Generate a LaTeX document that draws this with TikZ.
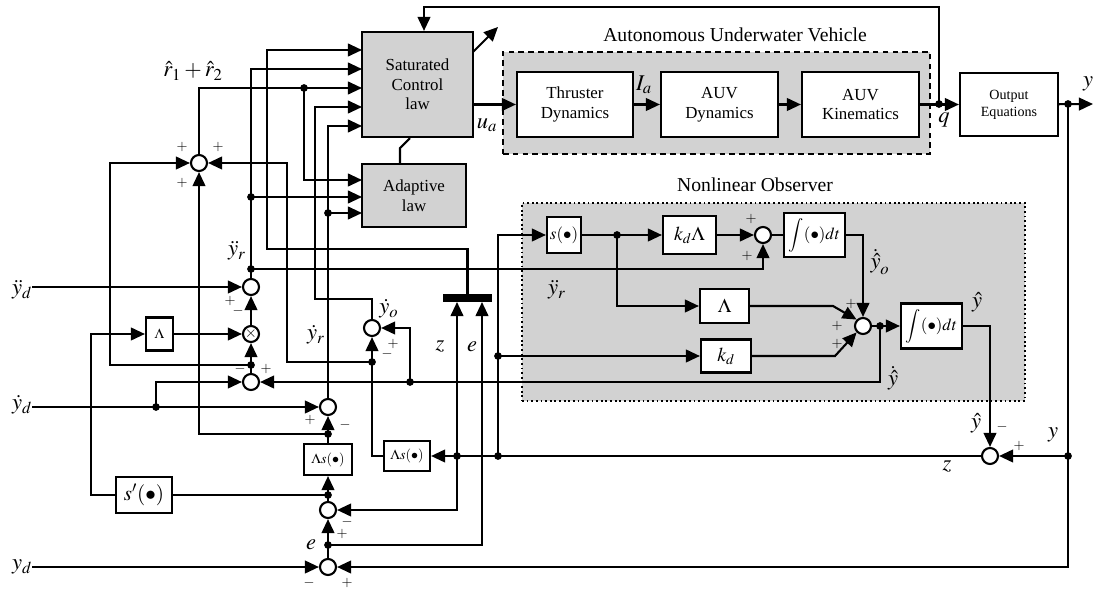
\documentclass[tikz,border=0pt]{standalone}
\usepackage{mathptmx}
\usepackage[no-math]{fontspec}
\setmainfont{Liberation Serif}
\usepackage{tikz}
\usetikzlibrary{arrows.meta, positioning, backgrounds}
\tikzset{
  blk/.style={rectangle, draw=black, line width=1.5pt, fill=white, align=center,
              inner sep=1pt, font=\fontsize{12}{14}\selectfont},
  gblk/.style={blk, fill=gray!35},
  sumc/.style={circle, draw=black, line width=1.5pt, fill=white,
               minimum size=0.4cm, inner sep=0pt},
  jdot/.style={circle, fill=black, minimum size=5.5pt, inner sep=0pt},
  arrow/.style={-{Triangle[length=10pt,width=9pt]}, line width=1.5pt},
  wire/.style={line width=1.5pt},
  sgn/.style={font=\fontsize{10}{10}\selectfont, inner sep=0pt},
  sig/.style={font=\fontsize{16}{16}\selectfont, inner sep=0pt},
}

\begin{document}
\begin{tikzpicture}[x=0.025cm, y=-0.025cm]
    \useasboundingbox (0,0) rectangle (1097,590);
    % groups
    \node[draw, dash pattern=on 4pt off 3pt, line width=1.5pt, fill=gray!35,
          minimum width=10.675cm, minimum height=2.55cm] (auv) at (716.5,103) {};
    \node[draw, dotted, line width=1.3pt, fill=gray!35,
          minimum width=12.575cm, minimum height=4.95cm] (obs) at (773.5,302) {};
    \node[font=\fontsize{14}{16}\selectfont] (auvt) at (735,35) {Autonomous Underwater Vehicle};
    \node[font=\fontsize{14}{16}\selectfont] (obst) at (755,185) {Nonlinear Observer};

    % blocks
    \node[gblk, minimum width=2.775cm, minimum height=2.625cm] (sat) at (417.5,84.5) {Saturated\\Control\\law};
    \node[gblk, minimum width=2.6cm, minimum height=1.575cm] (adapt) at (414,195.5) {Adaptive\\law};
    \node[blk, minimum width=2.9cm, minimum height=1.625cm] (thr) at (575,104.5) {Thruster\\Dynamics};
    \node[blk, minimum width=2.925cm, minimum height=1.625cm] (dyn) at (719.5,104.5) {AUV\\Dynamics};
    \node[blk, minimum width=2.925cm, minimum height=1.625cm] (kin) at (860.5,104.5) {AUV\\Kinematics};
    \node[blk, minimum width=2.45cm, minimum height=1.575cm,
          font=\fontsize{10}{12}\selectfont] (outeq) at (1009,104.5) {Output\\Equations};

    \node[blk, minimum width=0.85cm, minimum height=0.9cm] (sfun) at (564,235) {$s(\bullet)$};
    \node[blk, minimum width=1.325cm, minimum height=0.95cm, font=\fontsize{14}{14}\selectfont] (kdl) at (689.5,235) {$k_d\Lambda$};
    \node[blk, minimum width=1.525cm, minimum height=1.1cm] (int1) at (814.5,235) {$\displaystyle\int(\bullet)dt$};
    \node[blk, minimum width=1.225cm, minimum height=0.85cm, font=\fontsize{14}{14}\selectfont] (lamo) at (724.5,306) {$\Lambda$};
    \node[blk, minimum width=1.25cm, minimum height=0.825cm, font=\fontsize{14}{14}\selectfont] (kd) at (726,356) {$k_d$};
    \node[blk, minimum width=1.525cm, minimum height=1.125cm] (int2) at (931.5,326) {$\displaystyle\int(\bullet)dt$};

    \node[blk, minimum width=0.675cm, minimum height=0.825cm, font=\fontsize{10}{10}\selectfont] (lam) at (159.5,334) {$\Lambda$};
    \node[blk, minimum width=1.4cm, minimum height=0.9cm, font=\fontsize{15}{15}\selectfont] (sprime) at (144,495) {$s'(\bullet)$};
    \node[blk, minimum width=1.2cm, minimum height=0.775cm, font=\fontsize{10}{10}\selectfont] (lams1) at (328,459.5) {$\Lambda s(\bullet)$};
    \node[blk, minimum width=1.15cm, minimum height=0.75cm, font=\fontsize{10}{10}\selectfont] (lams2) at (407,456) {$\Lambda s(\bullet)$};
    \node[fill=black, minimum width=1.225cm, minimum height=0.2cm, inner sep=0pt] (bar) at (467.5,298) {};

    % summing points
    \node[sumc] (sr) at (199,163) {};
    \node[sumc] (syr) at (251,287) {};
    \node[sumc, font=\fontsize{11}{11}\selectfont] (mul) at (251,334) {$\times$};
    \node[sumc] (sdiff) at (251,382) {};
    \node[sumc] (syrd) at (328,407) {};
    \node[sumc] (syo) at (372,328) {};
    \node[sumc] (ss) at (328,510) {};
    \node[sumc] (se) at (328,567) {};
    \node[sumc] (sobs1) at (763,235) {};
    \node[sumc] (sobs2) at (863,326) {};
    \node[sumc] (sz) at (990,456) {};

    % ports and corners
    \coordinate (s1) at (362,50);
    \coordinate (s2) at (362,69);
    \coordinate (s3) at (362,88);
    \coordinate (s4) at (362,107);
    \coordinate (s5) at (362,126);
    \coordinate (a1) at (362,180);
    \coordinate (a2) at (362,197);
    \coordinate (a3) at (362,213);
    \coordinate (fbtop) at (424,7);
    \coordinate (satarr0) at (473,52);
    \coordinate (satarr) at (498,27);
    \coordinate (yout) at (1093,104);
    \coordinate (zbar) at (457,302);
    \coordinate (ebar) at (482,302);

    % junctions
    \node[jdot] (q) at (939,104) {};
    \node[jdot] (dy1) at (1068,104) {};
    \node[jdot] (dy2) at (1068,456) {};
    \node[jdot] (dr) at (304,88) {};
    \node[jdot] (dyr1) at (251,197) {};
    \node[jdot] (dyr2) at (251,269) {};
    \node[jdot] (dyrd) at (328,213) {};
    \node[jdot] (dmul) at (251,365) {};
    \node[jdot] (dyd) at (156,407) {};
    \node[jdot] (dls) at (328,434) {};
    \node[jdot] (ds) at (328,495) {};
    \node[jdot] (de) at (328,545) {};
    \node[jdot] (dyo) at (372,362) {};
    \node[jdot] (dyh) at (410,382) {};
    \node[jdot] (dz1) at (457,456) {};
    \node[jdot] (dz2) at (498,456) {};
    \node[jdot] (dkd) at (498,356) {};
    \node[jdot] (dsf) at (617,235) {};
    \node[jdot] (dyhdot) at (880,326) {};

    % plant chain
    \draw[arrow] (sat.east |- thr.west) -- (thr.west);
    \draw[arrow] (thr) -- (dyn);
    \draw[arrow] (dyn) -- (kin);
    \draw[arrow] (kin) -- (outeq);
    \draw[arrow] (outeq) -- (yout);
    \draw[arrow] (q.center) |- (fbtop) -- (sat.north -| fbtop);
    \draw[arrow] (satarr0) -- (satarr);
    \draw[wire] (adapt.north -| 400,0) -- (400,148) -- (sat.south -| 410,0);

    % inputs of the control law
    \draw[arrow] (bar.north) |- (267,249) |- (s1);
    \draw[arrow] (syr.north) |- (s2);
    \draw[arrow] (sr.north) |- (s3);
    \draw[arrow] (syo.north) |- (315,299) |- (s4);
    \draw[arrow] (syrd.north) |- (s5);
    \draw[arrow] (dr.center) |- (a1);
    \draw[arrow] (dyr1.center) -- (a2);
    \draw[arrow] (dyrd.center) -- (a3);

    % r1 + r2
    \draw[arrow] (dmul.center) -| (110,163) -- (sr.west);
    \draw[arrow] (dls.center) -| (sr.south);
    \draw[arrow] (dyo.center) -| (287,163) -- (sr.east);

    % reference signals
    \node[sig] (lydd) at (22,290) {$\ddot{y}_d$};
    \node[sig] (lyd) at (22,405) {$\dot{y}_d$};
    \node[sig] (lyd0) at (22,567) {$y_d$};
    \draw[arrow] (lydd.east |- syr) -- (syr.west);
    \draw[arrow] (lyd.east |- syrd) -- (syrd.west);
    \draw[arrow] (lyd0.east |- se) -- (se.west);

    \draw[arrow] (mul.north) -- (syr.south);
    \draw[arrow] (lam.east) -- (mul.west);
    \draw[wire] (sdiff.north) -- (dmul.center);
    \draw[arrow] (dmul.center) -- (mul.south);
    \draw[arrow] (dyd.center) |- (sdiff.west);
    \draw[arrow] (dyhdot.center) |- (dyh.center) -- (sdiff.east);

    \draw[wire] (lams1.north) -- (dls.center);
    \draw[arrow] (dls.center) -- (syrd.south);
    \draw[wire] (ss.north) -- (ds.center);
    \draw[arrow] (ds.center) -- (lams1.south);
    \draw[wire] (ds.center) -- (sprime.east);
    \draw[arrow] (sprime.west) -| (91,334) -- (lam.west);
    \draw[wire] (se.north) -- (de.center);
    \draw[arrow] (de.center) -- (ss.south);

    % z and e
    \draw[arrow] (sz.west) -- (lams2.east);
    \draw[arrow] (dz1.center) |- (ss.east);
    \draw[arrow] (dz1.center) -- (zbar);
    \draw[arrow] (de.center) -| (ebar);
    \draw[arrow] (lams2.west) -| (syo.south);
    \draw[arrow] (dyh.center) |- (syo.east);

    % observer
    \draw[arrow] (dz2.center) |- (sfun.west);
    \draw[arrow] (dkd.center) -- (kd.west);
    \draw[arrow] (sfun) -- (kdl);
    \draw[arrow] (dsf.center) |- (lamo.west);
    \draw[arrow] (kdl) -- (sobs1);
    \draw[arrow] (dyr2.center) -| (sobs1.south);
    \draw[wire] (sobs1) -- (int1);
    \draw[arrow] (int1.east) -| (sobs2.north);
    \draw[arrow] (lamo.east) -- (833,306) -- (sobs2.north west);
    \draw[arrow] (kd.east) -- (835,356) -- (sobs2.south west);
    \draw[arrow] (sobs2) -- (int2);
    \draw[arrow] (int2.east) -| (sz.north);
    \draw[arrow] (dy1.center) |- (se.east);
    \draw[arrow] (dy2.center) -- (sz.east);

    % signal names
    \node[sig] (lr) at (193,71) {$\hat{r}_1+\hat{r}_2$};
    \node[sig] (lyrdd) at (237,251) {$\ddot{y}_r$};
    \node[sig] (lyrd) at (316,335) {$\dot{y}_r$};
    \node[sig] (lyo) at (389,309) {$\dot{y}_o$};
    \node[sig] (lz) at (440,347) {$z$};
    \node[sig] (le) at (472,347) {$e$};
    \node[sig] (le2) at (311,545) {$e$};
    \node[sig] (lyrdd2) at (557,290) {$\ddot{y}_r$};
    \node[sig] (lyho) at (880,262) {$\dot{\hat{y}}_o$};
    \node[sig] (lyhd) at (893,378) {$\dot{\hat{y}}$};
    \node[sig] (lyh) at (977,302) {$\hat{y}$};
    \node[sig] (lyh2) at (976,423) {$\hat{y}$};
    \node[sig] (ly2) at (1053,435) {$y$};
    \node[sig] (lz2) at (947,467) {$z$};
    \node[sig] (lua) at (487,125) {$u_a$};
    \node[sig] (lia) at (644,85) {$I_a$};
    \node[sig] (lq) at (944,120) {$q$};
    \node[sig] (ly) at (1088,84) {$y$};

    % signs
    \node[sgn] (p1) at (182,147) {$+$};
    \node[sgn] (p2) at (218,147) {$+$};
    \node[sgn] (p3) at (182,183) {$+$};
    \node[sgn] (p4) at (230,301) {$+$};
    \node[sgn] (p5) at (238,311) {$-$};
    \node[sgn] (p6) at (240,369) {$-$};
    \node[sgn] (p7) at (266,369) {$+$};
    \node[sgn] (p8) at (310,420) {$+$};
    \node[sgn] (p9) at (345,425) {$-$};
    \node[sgn] (p10) at (393,344) {$+$};
    \node[sgn] (p11) at (387,354) {$-$};
    \node[sgn] (p12) at (347,522) {$-$};
    \node[sgn] (p13) at (342,534) {$+$};
    \node[sgn] (p14) at (309,583) {$-$};
    \node[sgn] (p15) at (347,583) {$+$};
    \node[sgn] (p16) at (751,219) {$+$};
    \node[sgn] (p17) at (747,256) {$+$};
    \node[sgn] (p18) at (851,304) {$+$};
    \node[sgn] (p19) at (837,326) {$+$};
    \node[sgn] (p20) at (837,344) {$+$};
    \node[sgn] (p21) at (1002,427) {$-$};
    \node[sgn] (p22) at (1019,446) {$+$};
\end{tikzpicture}
\end{document}
